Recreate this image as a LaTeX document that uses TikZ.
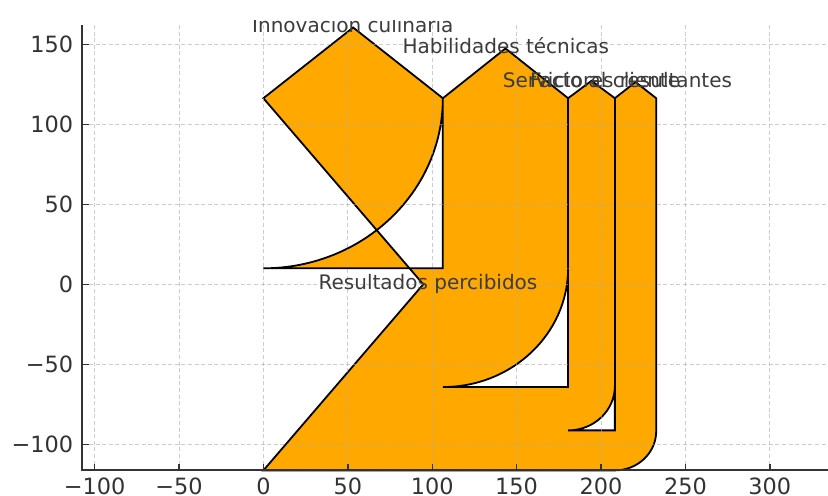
\documentclass[tikz,border=0pt]{standalone}
\usepackage{fontspec}
\setmainfont{DejaVu Sans}
\definecolor{sankey}{HTML}{FFA900}
\definecolor{axisgray}{HTML}{333333}
\definecolor{labelgray}{HTML}{3C3C3C}
\begin{document}
\begin{tikzpicture}[x=0.5pt,y=-0.5pt,
  edge/.style={draw=black,line width=0.9pt},
  gridline/.style={draw=black!32,line width=0.5pt,dash pattern=on 2pt off 1.3pt,opacity=0.6},
  spine/.style={draw=axisgray,line width=1pt},
  tickmark/.style={draw=axisgray,line width=0.7pt},
  flowlabel/.style={text=labelgray,font=\fontsize{10}{12}\selectfont,inner sep=0pt,anchor=base},
  ticklabel/.style={text=axisgray,font=\fontsize{11.2}{13}\selectfont,inner sep=0pt}]
\useasboundingbox (0,0) rectangle (828,495);
\fill[white] (0,0) rectangle (828,495);

% Sankey shape in data coordinates
\begin{scope}[xshift=131.7pt,yshift=-142.15pt,x=0.844pt,y=0.8pt]
  \fill[sankey,even odd rule]
    (0,-116.3) -- (208.2,-116.3) arc[start angle=-90,end angle=0,radius=24.5]
      -- (232.7,116.3) -- (220.45,126.4) -- (208.2,116.3) -- (194.35,127.2)
      -- (180.5,116.3) -- (143.4,147.4) -- (106.3,116.3) -- (53.15,160.5)
      -- (0,116.3) -- (94.7,0) -- cycle
    (106.3,116.3) arc[start angle=0,end angle=-90,radius=106.3] -- (106.3,10) -- cycle
    (180.5,10) arc[start angle=0,end angle=-90,radius=74.2] -- (180.5,-64.2) -- cycle
    (208.2,-63.6) arc[start angle=0,end angle=-90,radius=27.7] -- (208.2,-91.3) -- cycle;
  \draw[edge]
    (0,-116.3) -- (208.2,-116.3) arc[start angle=-90,end angle=0,radius=24.5]
      -- (232.7,116.3) -- (220.45,126.4) -- (208.2,116.3) -- (194.35,127.2)
      -- (180.5,116.3) -- (143.4,147.4) -- (106.3,116.3) -- (53.15,160.5)
      -- (0,116.3) -- (94.7,0) -- cycle;
  \draw[edge] (106.3,116.3) arc[start angle=0,end angle=-90,radius=106.3] -- (106.3,10) -- cycle;
  \draw[edge] (180.5,10) arc[start angle=0,end angle=-90,radius=74.2] -- (180.5,-64.2) -- cycle;
  \draw[edge] (208.2,-63.6) arc[start angle=0,end angle=-90,radius=27.7] -- (208.2,-91.3) -- cycle;
  \draw[edge] (180.5,116.3) -- (180.5,10);
  \draw[edge] (208.2,116.3) -- (208.2,-63.6);
\end{scope}

% grid
\foreach \gx in {94.6,179.0,263.4,347.8,432.2,516.6,601.0,685.4,769.8}
  \draw[gridline] (\gx,25) -- (\gx,470);
\foreach \gy in {44.3,124.3,204.3,284.3,364.3,444.3}
  \draw[gridline] (82.3,\gy) -- (828,\gy);

% spines and ticks
\draw[spine] (82.3,25) -- (82.3,470) -- (828,470);
\foreach \gy in {44.3,124.3,204.3,284.3,364.3,444.3}
  \draw[tickmark] (82.3,\gy) -- (88.5,\gy);
\foreach \gx in {94.6,179.0,263.4,347.8,432.2,516.6,601.0,685.4,769.8}
  \draw[tickmark] (\gx,470) -- (\gx,463.8);

% tick labels
\foreach \v/\p [count=\i] in {150/44.3,100/124.3,50/204.3,0/284.3,−50/364.3,−100/444.3}
  \node[ticklabel,anchor=east] (yl\i) at (73.5,\p) {\v};
\foreach \v/\p [count=\i] in {−100/94.6,−50/179.0,0/263.4,50/347.8,100/432.2,150/516.6,200/601.0,250/685.4,300/769.8}
  \node[ticklabel,anchor=north] (xl\i) at (\p,477) {\v};

% flow labels
\node[flowlabel] (innov) at (352.8,32.7) {Innovación culinaria};
\node[flowlabel] (habil) at (505.9,53.3) {Habilidades técnicas};
\node[flowlabel] (serv) at (591.5,87.2) {Servicio al cliente};
\node[flowlabel] (fact) at (631,87.8) {Factores resultantes};
\node[flowlabel] (result) at (428,289.3) {Resultados percibidos};

% top crop of the reference
\fill[white] (0,0) rectangle (828,19.8);
\end{tikzpicture}
\end{document}
